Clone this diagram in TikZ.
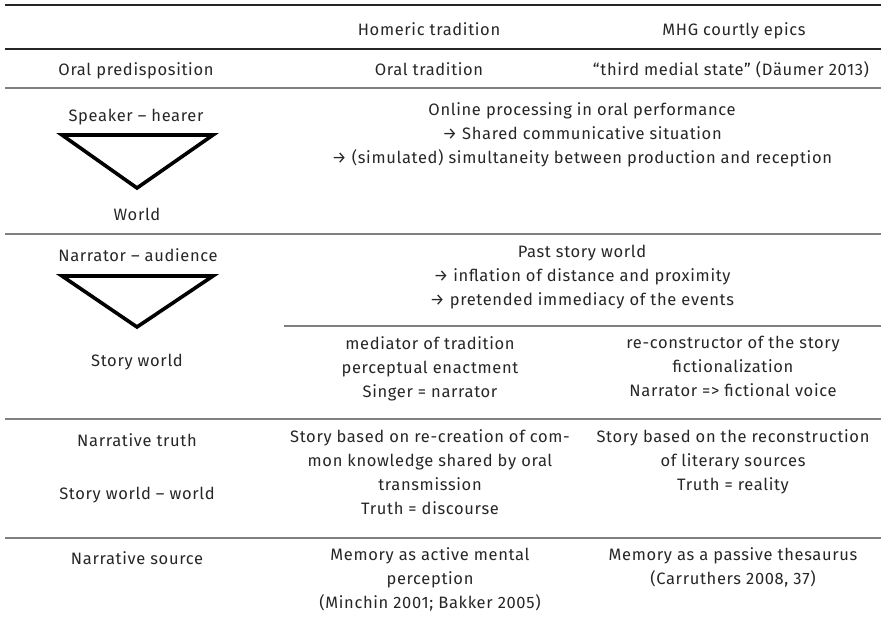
\documentclass[tikz,border=0pt]{standalone}
\usepackage{fontspec}
\setmainfont{Fira Sans}[LetterSpace=4.0]
\usepackage{tikz}

\begin{document}
\begin{tikzpicture}[x=1pt, y=-1pt,
  txt/.style={font=\fontsize{16.5}{24}\selectfont, text=black!85, align=center,
    inner sep=0pt, anchor=north, yshift=16.8pt, execute at begin node=\strut},
  toprule/.style={line width=2.4pt, black!85},
  midrule/.style={line width=1.3pt, black!50},
  tri/.style={line width=3.6pt}]
  \useasboundingbox (0,0) rectangle (886,628);

  % rules
  \draw[toprule] (5,5) -- (881,5);
  \draw[toprule] (5,49) -- (881,49);
  \draw[midrule] (5,88) -- (881,88);
  \draw[midrule] (5,234) -- (881,234);
  \draw[midrule] (284,326) -- (881,326);
  \draw[midrule] (5,419) -- (881,419);
  \draw[midrule] (5,538) -- (881,538);

  % header
  \node[txt] (hom) at (429,35) {Homeric tradition};
  \node[txt] (mhg) at (734,35) {MHG courtly epics};

  % row 1
  \node[txt] (oralp) at (136,75) {Oral predisposition};
  \node[txt] (oralt) at (429,75) {Oral tradition};
  \node[txt] (third) at (731,75) {“third medial state” (Däumer 2013)};

  % row 2
  \node[txt] (speak) at (136,121) {Speaker – hearer};
  \draw[tri] (62,135) -- (213,135) -- (137,188) -- cycle;
  \node[txt] (world) at (137,220) {World};
  \node[txt] (online) at (582,119) {Online processing in oral performance\\
    → Shared communicative situation\\
    → (simulated) simultaneity between production and reception};

  % row 3
  \node[txt] (narr) at (138,261) {Narrator – audience};
  \draw[tri] (62,276) -- (213,276) -- (137,327) -- cycle;
  \node[txt] (story) at (137,366) {Story world};
  \node[txt] (past) at (582,262) {Past story world\\
    → inflation of distance and proximity\\
    → pretended immediacy of the events};
  \node[txt] (medi) at (430,353) {mediator of tradition\\perceptual enactment\\Singer = narrator};
  \node[txt] (recon) at (733,353) {re-constructor of the story\\fictionalization\\Narrator => fictional voice};

  % row 4
  \node[txt] (truth) at (137,446) {Narrative truth};
  \node[txt] (sww) at (137,499) {Story world – world};
  \node[txt] (recre) at (430,446) {Story based on re-creation of com-\\mon knowledge shared by oral\\transmission\\Truth = discourse};
  \node[txt] (lit) at (733,446) {Story based on the reconstruction\\of literary sources\\Truth = reality};

  % row 5
  \node[txt] (src) at (137,564) {Narrative source};
  \node[txt] (act) at (430,564) {Memory as active mental\\perception\\(Minchin 2001; Bakker 2005)};
  \node[txt] (pas) at (733,564) {Memory as a passive thesaurus\\(Carruthers 2008, 37)};
\end{tikzpicture}
\end{document}
